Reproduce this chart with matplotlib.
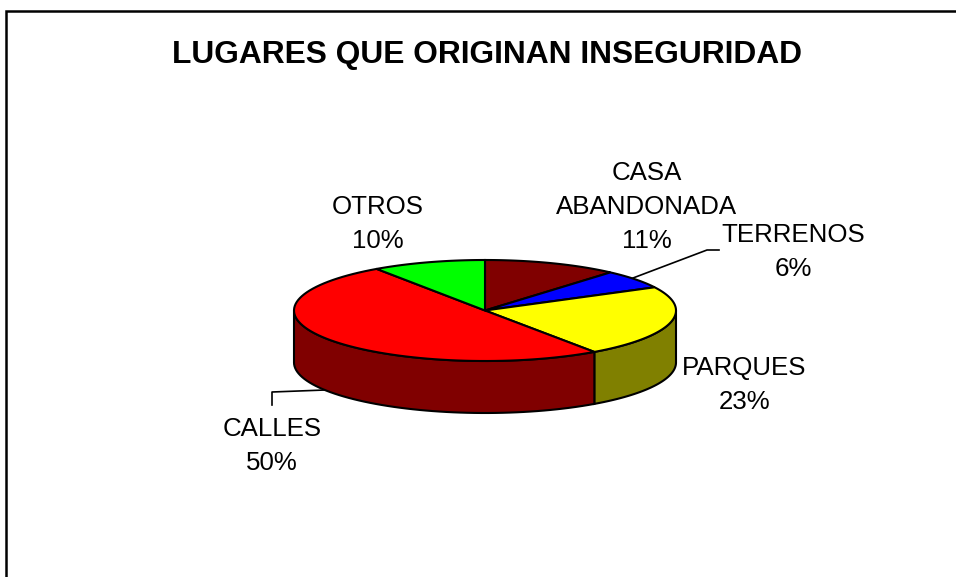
import numpy as np
import matplotlib
matplotlib.use("Agg")
import matplotlib.pyplot as plt
from matplotlib.patches import Polygon

TITLE = "LUGARES QUE ORIGINAN INSEGURIDAD"
labels = ["CASA\nABANDONADA\n11%", "TERRENOS\n6%", "PARQUES\n23%", "CALLES\n50%", "OTROS\n10%"]
values = [11.4, 6.0, 22.9, 50.1, 9.6]
top_colors = ["#800000", "#0000ff", "#ffff00", "#ff0000", "#00ff00"]
side_colors = ["#400000", "#000080", "#808000", "#800000", "#008000"]

# label centre in pixels
label_pos = [(647, 207), (793, 252), (744.5, 385), (272, 446), (377.5, 224)]

CX, CY = 485, 310.5
RX, RY = 191, 50.5
DEPTH = 52


def to_xy(angle, drop=0):
    # angle is clockwise from 12 o'clock, degrees
    a = np.radians(angle)
    return CX + RX * np.sin(a), CY - RY * np.cos(a) + drop


def side_wall(a0, a1):
    # only the front part of the rim shows
    a0 = max(a0, 90)
    a1 = min(a1, 270)
    if a1 <= a0:
        return None
    t = np.linspace(a0, a1, 60)
    x, y = to_xy(t)
    x2, y2 = to_xy(t[::-1], DEPTH)
    return np.column_stack([np.r_[x, x2], np.r_[y, y2]])


def main():
    plt.rcParams["font.family"] = ["Liberation Sans", "DejaVu Sans"]
    fig = plt.figure(figsize=(9.56, 5.77), dpi=100)
    ax = fig.add_axes([0, 0, 1, 1])
    ax.set_xlim(0, 956)
    ax.set_ylim(577, 0)
    ax.axis("off")

    # frame runs off the right and bottom of the picture
    ax.plot([6.5, 6.5, 956], [577, 10.5, 10.5], color="black", lw=1.8, solid_joinstyle="miter", zorder=1)

    edges = np.r_[0, np.cumsum(values)] / np.sum(values) * 360

    for i in range(len(values)):
        wall = side_wall(edges[i], edges[i + 1])
        if wall is not None:
            ax.add_patch(Polygon(wall, fc=side_colors[i], ec="black", lw=1.5, zorder=2))

    for i in range(len(values)):
        t = np.linspace(edges[i], edges[i + 1], 80)
        x, y = to_xy(t)
        pts = np.column_stack([np.r_[CX, x], np.r_[CY, y]])
        ax.add_patch(Polygon(pts, fc=top_colors[i], ec="black", lw=1.5, zorder=3))

    # leader lines
    ax.plot([633, 707, 719], [278, 250, 250], color="black", lw=1.2, zorder=4)
    ax.plot([272, 272, 325], [405, 392, 390], color="black", lw=1.2, zorder=1.5)

    ax.text(487, 55, TITLE, fontsize=22.9, fontweight="bold", ha="center", va="center", zorder=5)
    for s, (x, y) in zip(labels, label_pos):
        ax.text(x, y, s, fontsize=18.6, ha="center", va="center", linespacing=1.53, zorder=5)

    fig.savefig("out.png", dpi=100)


if __name__ == "__main__":
    main()
